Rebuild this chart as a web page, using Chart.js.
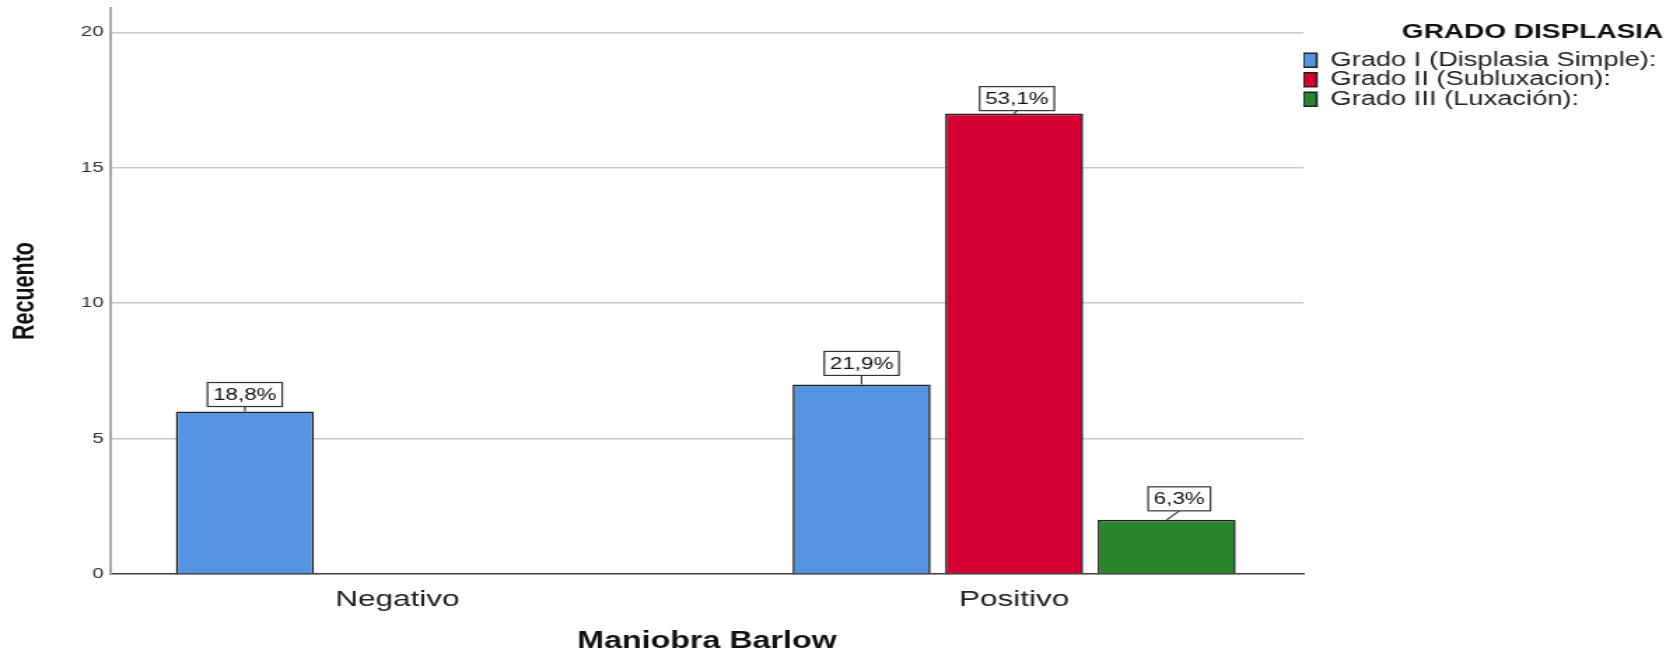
<!DOCTYPE html>
<html lang="es">
<head>
<meta charset="utf-8">
<title>Maniobra Barlow - Grado displasia</title>
<script src="https://cdn.jsdelivr.net/npm/chart.js@4.4.1/dist/chart.umd.min.js"></script>
<style>
  html, body { margin: 0; padding: 0; background: #ffffff; }
  /* el lienzo se dibuja estrecho y se estira en horizontal */
  #grafico { display: block; width: 1666px !important; height: 654px !important; }
</style>
</head>
<body>
<canvas id="grafico" width="1190" height="654"></canvas>
<script>
// Datos del gráfico
const categorias = ["Negativo", "Positivo"];
const series = ["Grado I (Displasia Simple):", "Grado II (Subluxacion):", "Grado III (Luxación):"];
const grado1 = [6, 7];
const grado2 = [null, 17];
const grado3 = [null, 2];
const colores = ["#5694E2", "#D50032", "#29862A"];

const FUENTE = "'Liberation Sans', Arial, sans-serif";

// Ajuste de cada recuadro de etiqueta: [desplazamiento x, separación sobre la barra]
const ajusteEtiqueta = {
  "0-0": [0, 5], "0-1": [0, 9],
  "1-1": [2, 3],
  "2-1": [9, 9]
};

// Total de casos para los porcentajes de las etiquetas
const total = [...grado1, ...grado2, ...grado3].reduce((s, v) => s + (v || 0), 0);
const formatoPct = v => (v / total * 100).toFixed(1).replace(".", ",") + "%";

const aPuntos = arr => arr.map((v, i) => ({ x: i, y: v }));

// Etiquetas con recuadro blanco sobre cada barra
const etiquetasBarras = {
  id: "etiquetasBarras",
  afterDatasetsDraw(chart) {
    const ctx = chart.ctx;
    ctx.save();
    ctx.font = "16px " + FUENTE;
    ctx.textAlign = "center";
    ctx.textBaseline = "middle";
    chart.data.datasets.forEach((ds, i) => {
      const meta = chart.getDatasetMeta(i);
      meta.data.forEach((bar, j) => {
        const v = ds.data[j].y;
        if (v == null) return;
        const [dx, sep] = ajusteEtiqueta[i + "-" + j] || [0, 8];
        const txt = formatoPct(v);
        const w = ctx.measureText(txt).width + 8;
        const h = 24;
        const cx = bar.x + dx;
        const abajo = bar.y - sep;
        ctx.strokeStyle = "#333";
        ctx.lineWidth = 1.2;
        ctx.beginPath();
        ctx.moveTo(bar.x, bar.y);
        ctx.lineTo(cx, abajo);
        ctx.stroke();
        ctx.fillStyle = "#ffffff";
        ctx.fillRect(cx - w / 2, abajo - h, w, h);
        ctx.strokeRect(cx - w / 2, abajo - h, w, h);
        ctx.fillStyle = "#111";
        ctx.fillText(txt, cx, abajo - h / 2 + 1);
      });
    });
    ctx.restore();
  }
};

const conjuntos = [grado1, grado2, grado3].map((vals, i) => ({
  label: series[i],
  data: aPuntos(vals),
  backgroundColor: colores[i],
  borderColor: "#222",
  borderWidth: 1.6,
  categoryPercentage: 0.742,
  barPercentage: 0.905
}));

new Chart(document.getElementById("grafico"), {
  type: "bar",
  data: { datasets: conjuntos },
  plugins: [etiquetasBarras],
  options: {
    responsive: false,
    animation: false,
    devicePixelRatio: 1,
    layout: { padding: { top: 8, left: 5, right: 2, bottom: 0 } },
    plugins: {
      tooltip: { enabled: false },
      legend: {
        position: "right",
        align: "start",
        maxWidth: 257,
        title: {
          display: true,
          text: "GRADO DISPLASIA",
          position: "end",
          color: "#111",
          font: { family: FUENTE, size: 20, weight: "bold" },
          padding: { top: 14.5, bottom: 4 }
        },
        labels: {
          boxWidth: 9.5,
          boxHeight: 14,
          padding: 0,
          color: "#222",
          font: { family: FUENTE, size: 19.5 }
        }
      }
    },
    scales: {
      x: {
        type: "linear",
        offset: false,
        min: -0.465,
        max: 1.469,
        afterBuildTicks: eje => { eje.ticks = categorias.map((c, i) => ({ value: i })); },
        // alto fijo del eje horizontal
        afterFit: eje => { eje.height = 80; },
        ticks: {
          autoSkip: false,
          padding: 12,
          color: "#222",
          font: { family: FUENTE, size: 22.5 },
          callback: v => categorias[v]
        },
        grid: { display: false, drawTicks: false },
        border: { display: true, color: "#444", width: 1.5 },
        title: {
          display: true,
          text: "Maniobra Barlow",
          color: "#111",
          font: { family: FUENTE, size: 23, weight: "bold", lineHeight: 1.1 },
          padding: { top: 10, bottom: 0 }
        }
      },
      y: {
        min: 0,
        max: 20.9,
        // ancho fijo y sin margen extra arriba/abajo
        afterFit: eje => {
          eje.width = 74;
          eje.paddingTop = 0;
          eje.paddingBottom = 0;
        },
        ticks: {
          stepSize: 5,
          includeBounds: false,
          padding: 5,
          color: "#333",
          font: { family: FUENTE, size: 14.5 }
        },
        grid: { color: "#c8c8c8", lineWidth: 1.5, drawTicks: false },
        border: { display: true, color: "#a8a8a8", width: 2 },
        title: {
          display: true,
          text: "Recuento",
          color: "#111",
          font: { family: FUENTE, size: 21.5, weight: "bold" },
          padding: { top: 0, bottom: 20 }
        }
      }
    }
  }
});
</script>
</body>
</html>
